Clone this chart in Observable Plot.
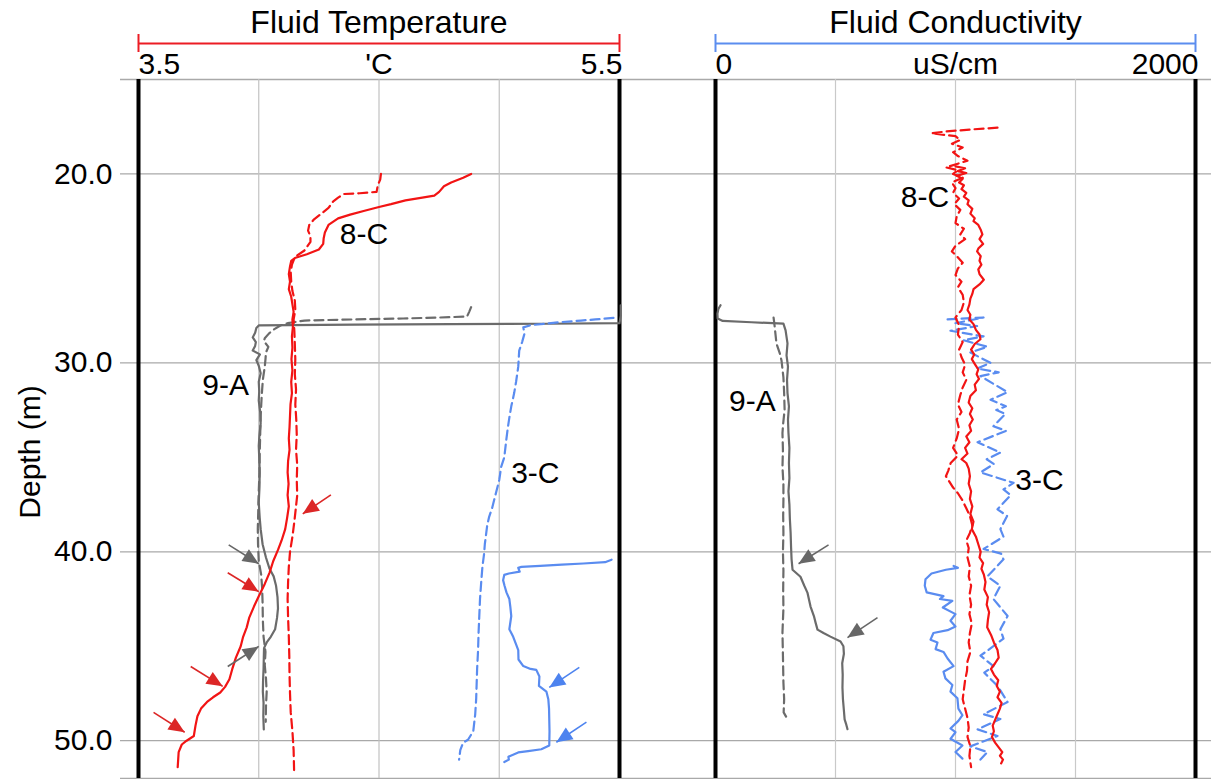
<!DOCTYPE html>
<html lang="en">
<head>
<meta charset="utf-8">
<title>Fluid temperature and conductivity logs</title>
<script src="https://cdn.jsdelivr.net/npm/d3@7"></script>
<script src="https://cdn.jsdelivr.net/npm/@observablehq/plot@0.6"></script>
<style>
  html, body { margin: 0; padding: 0; background: #fff; }
  #chart { position: relative; width: 1211px; height: 779px; overflow: hidden; background: #fff; }
  #chart svg { position: absolute; left: 0; top: 0; }
</style>
</head>
<body>
<div id="chart"></div>
<script>
// ---- axes ----
const depthDomain = [15, 52];
const depthTicks = [20, 30, 40, 50];
const tempDomain = [3.5, 5.5];
const tempGrid = [4.0, 4.5, 5.0];
const tempUnit = "'C";
const condDomain = [0, 2000];
const condGrid = [500, 1000, 1500];
const condUnit = "uS/cm";
const panelTitles = ["Fluid Temperature", "Fluid Conductivity"];
const wells = ["8-C", "9-A", "3-C"];

// ---- temperature logs: [°C, depth m] ----
const temp8C = [[4.883,20.0],[4.85,20.2],[4.80,20.45],[4.77,20.65],[4.75,20.95],[4.73,21.15],[4.68,21.25],[4.61,21.4],[4.55,21.6],[4.50,21.75],[4.44,21.95],[4.38,22.15],[4.33,22.35],[4.29,22.7],[4.275,23.1],[4.27,23.4],[4.268,23.7],[4.25,24.0],[4.2,24.25],[4.15,24.45],[4.135,24.6],[4.13,24.9],[4.125,25.3],[4.13,25.7],[4.125,26.1],[4.135,26.5],[4.14,26.9],[4.145,27.3],[4.14,27.7],[4.142,28.1],[4.138,28.6],[4.14,29.2],[4.136,29.8],[4.14,30.4],[4.135,31.0],[4.138,31.6],[4.132,32.2],[4.13,32.8],[4.128,33.4],[4.125,34.0],[4.128,34.6],[4.122,35.2],[4.12,35.8],[4.124,36.4],[4.12,37.0],[4.125,37.6],[4.118,38.2],[4.11,38.8],[4.095,39.4],[4.08,39.9],[4.06,40.5],[4.045,41.1],[4.025,41.7],[4.0,42.35],[3.98,42.9],[3.96,43.5],[3.95,44.0],[3.935,44.5],[3.925,45.0],[3.905,45.6],[3.89,46.2],[3.878,46.75],[3.86,47.15],[3.84,47.45],[3.81,47.7],[3.785,47.95],[3.76,48.3],[3.745,48.7],[3.737,49.2],[3.73,49.75],[3.70,50.0],[3.68,50.2],[3.667,50.6],[3.665,51.0],[3.663,51.4]];
const temp8CRepeat = [[4.508,20.0],[4.505,20.3],[4.495,20.6],[4.49,20.95],[4.42,21.02],[4.355,21.06],[4.33,21.25],[4.31,21.45],[4.29,21.8],[4.265,22.05],[4.23,22.4],[4.21,22.7],[4.205,23.0],[4.215,23.3],[4.215,23.6],[4.19,24.05],[4.15,24.4],[4.138,24.8],[4.133,25.2],[4.135,25.7],[4.14,26.2],[4.15,26.7],[4.152,27.2],[4.145,27.7],[4.148,28.3],[4.15,29.0],[4.152,29.8],[4.15,30.6],[4.155,31.4],[4.152,32.2],[4.156,33.0],[4.158,33.8],[4.155,34.6],[4.16,35.4],[4.158,36.2],[4.16,37.0],[4.155,37.6],[4.148,38.4],[4.14,39.2],[4.13,40.0],[4.125,40.8],[4.122,41.6],[4.12,42.5],[4.122,43.5],[4.125,44.5],[4.127,45.5],[4.128,46.5],[4.13,47.5],[4.133,48.5],[4.14,49.5],[4.145,50.5],[4.147,51.6]];
const temp9A = [[5.505,26.95],[5.505,27.5],[5.5,27.9],[5.2,27.93],[4.8,27.95],[4.4,27.98],[4.0,28.02],[3.99,28.15],[3.985,28.4],[3.975,28.65],[3.988,28.9],[3.985,29.1],[3.975,29.35],[4.005,29.55],[3.99,29.85],[4.0,30.15],[4.008,30.55],[4.0,31.0],[4.002,31.5],[4.0,32.0],[4.006,32.6],[4.008,33.2],[4.003,33.8],[4.0,34.4],[4.002,35.0],[4.004,35.8],[4.003,36.6],[4.0,37.4],[4.004,38.2],[4.008,38.8],[4.016,39.6],[4.03,40.3],[4.045,40.9],[4.062,41.3],[4.072,41.8],[4.078,42.4],[4.08,43.0],[4.076,43.5],[4.068,44.1],[4.05,44.5],[4.033,44.8],[4.022,45.1],[4.021,45.6],[4.02,46.2],[4.018,46.8],[4.017,47.4],[4.02,48.0],[4.019,48.7],[4.021,49.4]];
const temp9ARepeat = [[4.883,27.05],[4.875,27.3],[4.866,27.55],[4.75,27.6],[4.6,27.65],[4.4,27.7],[4.19,27.76],[4.12,27.9],[4.09,28.02],[4.06,28.25],[4.042,28.45],[4.025,28.7],[4.021,28.85],[4.04,29.15],[4.03,29.45],[4.028,29.8],[4.025,30.2],[4.017,30.9],[4.012,31.8],[4.008,32.8],[4.006,33.8],[4.004,34.8],[4.003,35.8],[4.0,36.8],[3.998,37.8],[3.996,38.8],[3.997,39.6],[4.0,40.5],[4.01,41.2],[4.014,41.9],[4.016,42.7],[4.017,43.6],[4.02,44.5],[4.028,45.3],[4.025,46.0],[4.03,46.7],[4.033,47.4],[4.03,48.2],[4.029,49.0]];
const temp3C = [[5.467,40.42],[5.44,40.55],[5.35,40.62],[5.26,40.68],[5.17,40.74],[5.092,40.8],[5.079,40.85],[5.085,41.05],[5.04,41.15],[5.021,41.22],[5.016,41.5],[5.022,41.8],[5.03,42.15],[5.042,42.5],[5.046,42.9],[5.05,43.4],[5.042,44.1],[5.058,44.5],[5.07,44.9],[5.079,45.2],[5.08,45.7],[5.1,46.05],[5.13,46.2],[5.154,46.25],[5.167,46.6],[5.165,47.1],[5.196,47.4],[5.204,47.8],[5.207,48.3],[5.208,48.9],[5.209,49.5],[5.208,50.25],[5.175,50.45],[5.12,50.55],[5.079,50.62],[5.038,50.85],[5.04,51.0],[5.021,51.13]];
const temp3CRepeat = [[5.475,27.62],[5.40,27.7],[5.34,27.76],[5.25,27.85],[5.133,28.0],[5.1,28.12],[5.105,28.45],[5.095,28.9],[5.083,29.35],[5.079,30.2],[5.07,31.0],[5.062,31.6],[5.05,32.3],[5.042,32.9],[5.035,33.5],[5.029,34.1],[5.021,35.0],[5.008,35.5],[5.0,36.2],[4.99,36.7],[4.979,37.25],[4.97,37.7],[4.958,38.15],[4.95,38.6],[4.946,39.0],[4.94,39.6],[4.937,40.1],[4.93,40.8],[4.925,41.6],[4.92,42.5],[4.917,43.4],[4.914,44.3],[4.912,45.2],[4.908,46.2],[4.906,47.0],[4.904,47.8],[4.9,48.6],[4.892,49.5],[4.87,49.95],[4.85,50.1],[4.838,50.5],[4.833,51.0]];

// ---- conductivity logs: [uS/cm, depth m] ----
const cond8C = [[1000,19.6],[1040,19.7],[1010,19.85],[1045,19.95],[1005,20.1],[1030,20.25],[1015,20.45],[1035,20.6],[1025,20.8],[1045,21.0],[1035,21.2],[1055,21.4],[1050,21.6],[1070,21.85],[1062,22.1],[1080,22.35],[1075,22.5],[1095,22.7],[1105,22.95],[1112,23.2],[1100,23.45],[1115,23.7],[1095,23.95],[1090,24.1],[1105,24.35],[1100,24.6],[1108,24.8],[1095,25.05],[1100,25.3],[1118,25.6],[1100,25.85],[1075,26.1],[1070,26.35],[1062,26.6],[1058,26.9],[1050,27.2],[1062,27.45],[1058,27.7],[1075,27.95],[1085,28.25],[1100,28.5],[1104,28.75],[1080,29.0],[1065,29.3],[1078,29.55],[1068,29.8],[1080,30.05],[1095,30.35],[1088,30.6],[1098,30.85],[1080,31.15],[1085,31.45],[1062,31.75],[1055,32.1],[1070,32.4],[1060,32.7],[1072,33.0],[1058,33.3],[1065,33.6],[1045,33.9],[1058,34.2],[1040,34.5],[1050,34.8],[1025,35.1],[1045,35.3],[1055,35.6],[1060,36.0],[1055,36.4],[1065,36.8],[1060,37.2],[1070,37.6],[1062,38.0],[1075,38.4],[1068,38.8],[1085,39.2],[1095,39.6],[1105,40.0],[1100,40.3],[1115,40.6],[1108,40.9],[1118,41.2],[1125,41.6],[1120,42.0],[1135,42.4],[1130,42.8],[1140,43.2],[1135,43.6],[1132,44.0],[1148,44.4],[1160,44.8],[1175,45.2],[1180,45.6],[1165,45.9],[1148,46.2],[1160,46.5],[1178,46.8],[1172,47.1],[1185,47.4],[1175,47.7],[1192,48.0],[1185,48.3],[1175,48.6],[1165,48.9],[1155,49.2],[1160,49.5],[1152,49.8],[1165,50.1],[1180,50.35],[1195,50.6],[1185,50.8],[1198,51.0],[1190,51.2]];
const cond8CRepeat = [[1175,17.55],[1060,17.65],[960,17.75],[900,17.85],[1000,18.0],[1020,18.2],[985,18.4],[1030,18.6],[990,18.85],[1010,19.05],[1050,19.3],[960,19.65],[1010,19.8],[990,20.0],[1030,20.2],[985,20.45],[1000,20.75],[990,21.0],[1015,21.3],[995,21.6],[1020,21.9],[1005,22.25],[1000,22.6],[1035,22.9],[1020,23.2],[1040,23.45],[1000,23.8],[985,24.1],[1005,24.35],[1030,24.7],[1010,25.0],[1000,25.35],[1025,25.7],[1010,26.0],[1030,26.4],[1035,26.8],[1025,27.2],[1000,27.6],[1015,28.0],[1010,28.5],[1030,28.9],[1015,29.3],[1025,29.7],[1040,30.1],[1030,30.5],[1045,30.9],[1030,31.3],[1020,31.7],[1010,32.2],[1025,32.6],[1005,33.0],[1015,33.5],[1005,34.0],[990,34.5],[1010,34.9],[980,35.3],[970,35.7],[960,36.0],[975,36.3],[990,36.6],[1010,36.9],[1030,37.3],[1045,37.7],[1060,38.1],[1070,38.6],[1060,39.0],[1045,39.4],[1055,39.8],[1050,40.3],[1060,40.8],[1055,41.3],[1065,41.8],[1058,42.3],[1065,42.8],[1058,43.3],[1068,43.8],[1060,44.3],[1055,44.8],[1062,45.3],[1050,45.8],[1048,46.3],[1040,46.8],[1035,47.3],[1030,47.8],[1040,48.3],[1050,48.8],[1055,49.3],[1050,49.8],[1062,50.3],[1058,50.8],[1065,51.4]];
const cond9A = [[21,26.95],[12,27.15],[8,27.4],[9,27.65],[30,27.78],[150,27.85],[283,27.92],[292,28.28],[300,28.97],[296,29.6],[302,30.2],[298,30.9],[300,31.6],[306,32.3],[302,33.0],[304,33.7],[308,34.5],[306,35.3],[308,36.1],[304,36.8],[308,37.5],[310,38.3],[313,39.0],[315,39.8],[317,40.4],[321,40.95],[354,41.32],[370,41.8],[383,42.16],[396,42.9],[410,43.4],[417,43.75],[425,44.12],[450,44.3],[479,44.49],[521,44.75],[533,45.0],[535,45.4],[528,45.9],[530,46.5],[529,47.2],[531,47.8],[535,48.4],[538,48.87],[545,49.15],[550,49.39]];
const cond9ARepeat = [[242,27.6],[246,28.02],[254,28.97],[268,29.5],[275,29.87],[283,30.77],[286,31.6],[288,32.5],[282,33.2],[279,33.72],[281,34.6],[279,35.51],[283,36.4],[283,37.26],[282,38.1],[283,39.0],[281,40.0],[283,41.0],[282,42.0],[283,43.0],[279,44.27],[281,45.5],[283,46.91],[286,47.8],[284,48.5],[295,48.75],[304,48.87]];
const cond3C = [[992,40.75],[1010,40.85],[960,40.95],[900,41.15],[875,41.45],[872,41.8],[880,42.15],[950,42.35],[935,42.5],[987,42.6],[947,42.95],[1000,43.3],[979,43.65],[1000,43.95],[967,44.15],[908,44.3],[896,44.65],[925,44.8],[917,45.15],[950,45.3],[967,45.65],[992,46.05],[950,46.35],[958,46.7],[987,47.05],[979,47.4],[1008,47.75],[1012,48.3],[1029,48.65],[1012,48.95],[979,49.35],[1000,49.55],[979,49.9],[1029,50.25],[1000,50.6],[1029,50.95]];
const cond3CRepeat = [[967,27.7],[1117,27.6],[1000,27.9],[1090,28.05],[979,28.3],[1117,28.6],[1033,28.8],[1133,29.15],[1062,29.45],[1146,30.0],[1090,30.3],[1180,30.5],[1104,30.7],[1217,31.55],[1146,31.95],[1210,32.3],[1170,32.5],[1208,32.7],[1158,33.35],[1210,33.6],[1092,34.2],[1187,34.75],[1130,35.1],[1160,35.35],[1104,35.8],[1242,36.35],[1200,36.7],[1230,37.0],[1175,37.75],[1215,38.1],[1187,38.8],[1200,39.2],[1117,39.85],[1190,40.1],[1200,40.4],[1133,41.3],[1187,41.8],[1158,42.5],[1217,43.4],[1187,44.1],[1200,44.6],[1104,45.5],[1158,46.05],[1120,46.4],[1175,47.1],[1217,47.95],[1117,48.6],[1187,48.85],[1092,49.4],[1175,49.75],[1062,50.3],[1133,50.6],[1104,51.0]];

// ---- well labels: [well, value, depth] ----
const tempLabels = [["8-C", 4.4375, 23.2], ["9-A", 3.8625, 31.2], ["3-C", 5.15, 35.83]];
const condLabels = [["8-C", 873, 21.24], ["9-A", 154, 32.03], ["3-C", 1350, 36.2]];

// ---- arrows: [well, tail value, tail depth, tip value, tip depth] ----
const tempArrows = [
  ["8-C", 4.30, 36.99, 4.183, 37.99],
  ["8-C", 3.871, 41.11, 4.0, 42.11],
  ["8-C", 3.717, 46.07, 3.85, 47.12],
  ["8-C", 3.5625, 48.5, 3.692, 49.55],
  ["9-A", 3.875, 39.63, 4.0, 40.63],
  ["9-A", 3.871, 46.07, 4.0, 45.01],
  ["3-C", 5.333, 46.12, 5.208, 47.18],
  ["3-C", 5.3625, 49.02, 5.2375, 50.08]
];
const condArrows = [
  ["9-A", 471, 39.63, 346, 40.63],
  ["9-A", 675, 43.48, 550, 44.54]
];

// ---- drawing ----
const W = 1211, H = 779;
const FRAME_TOP = 79, FRAME_BOTTOM = H - 1;
const tempFrame = [138, 619];
const condFrame = [715, 1195];
const FONT = "'Liberation Sans', Arial, Helvetica, sans-serif";
const FS = 30;
const lineColor = {"8-C": "#f21414", "9-A": "#6b6b6b", "3-C": "#5a8cf0"};
const arrowColor = {"8-C": "#dc2626", "9-A": "#676767", "3-C": "#4d83ef"};

function logLine(data, well, dashed) {
  return Plot.line(data, {
    x: p => p[0], y: p => p[1],
    stroke: lineColor[well], strokeWidth: 2.2,
    strokeLinejoin: "round",
    ...(dashed ? {strokeDasharray: "9,5"} : {strokeLinecap: "round"})
  });
}

// shaft as a link, solid head as a spike vector pointing along the shaft
function arrowMarks(data, frame, domain) {
  const kx = (frame[1] - frame[0]) / (domain[1] - domain[0]);
  const ky = (FRAME_BOTTOM - FRAME_TOP) / (depthDomain[1] - depthDomain[0]);
  const heading = d => Math.atan2((d[3] - d[1]) * kx, -(d[4] - d[2]) * ky) * 180 / Math.PI;
  return wells.flatMap(w => {
    const sel = data.filter(d => d[0] === w);
    return [
      Plot.link(sel, {x1: d => d[1], y1: d => d[2], x2: d => d[3], y2: d => d[4], stroke: arrowColor[w], strokeWidth: 1.6}),
      Plot.vector(sel, {x: d => d[3], y: d => d[4], rotate: heading, length: 16, r: 7, shape: "spike", anchor: "end", fill: arrowColor[w], stroke: "none"})
    ];
  });
}

function headerMarks(domain, unit, title, accent, fmt) {
  return [
    Plot.text([title], {text: d => d, frameAnchor: "top", dy: -57, lineAnchor: "middle", fontSize: 32}),
    Plot.ruleY([depthDomain[0]], {stroke: accent, strokeWidth: 2, dy: -36}),
    Plot.ruleX(domain, {y1: depthDomain[0], y2: depthDomain[0], stroke: accent, strokeWidth: 2, dy: -36, insetTop: -9, insetBottom: -9}),
    Plot.text([domain[0]], {x: d => d, text: fmt, frameAnchor: "top", dy: -15, textAnchor: "start", lineAnchor: "middle", fontSize: FS}),
    Plot.text([domain[1]], {x: d => d, text: fmt, frameAnchor: "top", dy: -15, textAnchor: "end", lineAnchor: "middle", fontSize: FS, dx: 3}),
    Plot.text([unit], {text: d => d, frameAnchor: "top", dy: -15, lineAnchor: "middle", fontSize: FS})
  ];
}

function labelMarks(data) {
  return Plot.text(data, {x: d => d[1], y: d => d[2], text: d => d[0], fontSize: FS, lineAnchor: "middle", fill: "#000"});
}

const baseStyle = {fontFamily: FONT, fontSize: FS + "px", background: "transparent", overflow: "visible", color: "#000"};

const tempPlot = Plot.plot({
  width: W, height: H,
  marginLeft: tempFrame[0], marginRight: W - tempFrame[1], marginTop: FRAME_TOP, marginBottom: H - FRAME_BOTTOM,
  style: baseStyle,
  x: {domain: tempDomain, axis: null},
  y: {domain: depthDomain, reverse: true},
  marks: [
    Plot.ruleY([depthDomain[0], ...depthTicks, depthDomain[1]], {stroke: "#a9a9a9", strokeWidth: 1.3, insetLeft: -18, insetRight: -(W - tempFrame[1])}),
    Plot.ruleX(tempGrid, {stroke: "#c2c2c2", strokeWidth: 1.2}),
    Plot.ruleX(tempDomain, {stroke: "#000", strokeWidth: 4}),
    Plot.axisY({ticks: depthTicks, tickFormat: d3.format(".1f"), tickSize: 0, tickPadding: 26, label: null, fontSize: FS}),
    Plot.text(["Depth (m)"], {text: d => d, frameAnchor: "left", dx: -108, dy: 23, rotate: -90, textAnchor: "middle", lineAnchor: "middle", fontSize: FS}),
    ...headerMarks(tempDomain, tempUnit, panelTitles[0], "#ec1c24", d3.format(".1f")),
    logLine(temp9ARepeat, "9-A", true),
    logLine(temp9A, "9-A", false),
    logLine(temp3CRepeat, "3-C", true),
    logLine(temp3C, "3-C", false),
    logLine(temp8CRepeat, "8-C", true),
    logLine(temp8C, "8-C", false),
    ...arrowMarks(tempArrows, tempFrame, tempDomain),
    labelMarks(tempLabels)
  ]
});

const condPlot = Plot.plot({
  width: W, height: H,
  marginLeft: condFrame[0], marginRight: W - condFrame[1], marginTop: FRAME_TOP, marginBottom: H - FRAME_BOTTOM,
  style: baseStyle,
  x: {domain: condDomain, axis: null},
  y: {domain: depthDomain, reverse: true, axis: null},
  marks: [
    Plot.ruleX(condGrid, {stroke: "#c9c9c9", strokeWidth: 1.2}),
    Plot.ruleX(condDomain, {stroke: "#000", strokeWidth: 4}),
    ...headerMarks(condDomain, condUnit, panelTitles[1], "#5b8def", d3.format("d")),
    logLine(cond9ARepeat, "9-A", true),
    logLine(cond9A, "9-A", false),
    logLine(cond3C, "3-C", false),
    logLine(cond3CRepeat, "3-C", true),
    logLine(cond8CRepeat, "8-C", true),
    logLine(cond8C, "8-C", false),
    ...arrowMarks(condArrows, condFrame, condDomain),
    labelMarks(condLabels)
  ]
});

document.getElementById("chart").append(tempPlot, condPlot);
</script>
</body>
</html>
